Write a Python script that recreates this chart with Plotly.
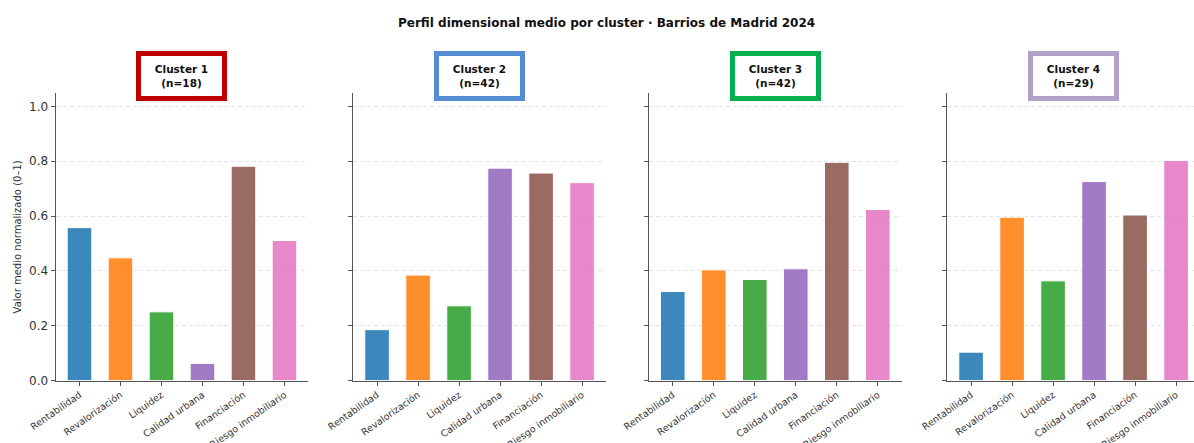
import plotly.graph_objects as go

# Dimension labels shared by every cluster panel
dimensions = ["Rentabilidad", "Revalorización", "Liquidez",
              "Calidad urbana", "Financiación", "Riesgo inmobiliario"]

# Mean normalised score per dimension (0–1) for each cluster
cluster_1 = [0.558, 0.448, 0.251, 0.063, 0.782, 0.511]
cluster_2 = [0.186, 0.385, 0.273, 0.775, 0.757, 0.722]
cluster_3 = [0.325, 0.404, 0.369, 0.408, 0.796, 0.624]
cluster_4 = [0.104, 0.596, 0.364, 0.726, 0.604, 0.803]

cluster_names = ["Cluster 1", "Cluster 2", "Cluster 3", "Cluster 4"]
cluster_sizes = [18, 42, 42, 29]
y_ticks = [0.0, 0.2, 0.4, 0.6, 0.8, 1.0]

series = [cluster_1, cluster_2, cluster_3, cluster_4]
bar_colors = ["#1f77b4", "#ff7f0e", "#2ca02c", "#9467bd", "#8c564b", "#e377c2"]
frame_colors = ["#c00000", "#558dd5", "#00b050", "#b1a0c7"]

W, H = 1194, 443
FONT = "DejaVu Sans"
AXIS_COLOR = "#555555"
TEXT_COLOR = "#333333"

# Panel placement in pixels (left edge, right edge); shared vertical span
px_per_unit = 41.0
x_lo = -0.58
panel_left = [55.7, 353.3, 649.0, 947.3]
full_width = 6.16 * px_per_unit
y_bottom_px, y_top_px = 380.7, 92.7

fig = go.Figure()
layout = dict(
    width=W, height=H,
    margin=dict(l=0, r=0, t=0, b=0, autoexpand=False),
    paper_bgcolor="white", plot_bgcolor="white",
    showlegend=False,
    font=dict(family=FONT, color=TEXT_COLOR),
)

annotations = []
for i, values in enumerate(series):
    ax = "" if i == 0 else str(i + 1)
    left = panel_left[i]
    right = min(left + full_width, W)
    x_hi = x_lo + (right - left) / px_per_unit

    fig.add_trace(go.Bar(
        x=dimensions, y=values,
        width=0.6,
        marker=dict(color=bar_colors, opacity=0.87,
                    line=dict(color="white", width=1)),
        xaxis="x" + ax, yaxis="y" + ax,
        hoverinfo="x+y",
    ))

    layout["xaxis" + ax] = dict(
        domain=[left / W, right / W],
        anchor="y" + ax,
        type="category",
        range=[x_lo, x_hi],
        automargin=False,
        showline=True, linecolor=AXIS_COLOR, linewidth=1.2,
        ticks="outside", ticklen=4, tickcolor=AXIS_COLOR, tickwidth=1,
        tickangle=-35,
        tickfont=dict(family=FONT, size=9.5, color=TEXT_COLOR),
        showgrid=False, zeroline=False,
    )
    layout["yaxis" + ax] = dict(
        domain=[(H - y_bottom_px) / H, (H - y_top_px) / H],
        anchor="x" + ax,
        range=[0, 1.05],
        automargin=False,
        tickvals=y_ticks,
        ticktext=[f"{v:.1f}" for v in y_ticks],
        showticklabels=(i == 0),
        showline=True, linecolor=AXIS_COLOR, linewidth=1.2,
        ticks="outside", ticklen=4, tickcolor=AXIS_COLOR, tickwidth=1,
        tickfont=dict(family=FONT, size=12, color=TEXT_COLOR),
        showgrid=True, gridcolor="#e2e2e2", gridwidth=0.8, griddash="4px,3px",
        zeroline=False,
    )

    # Framed cluster label above each panel
    centre = left + full_width / 2
    annotations.append(dict(
        xref="paper", yref="paper",
        x=centre / W, y=(H - 75.5) / H,
        xanchor="center", yanchor="middle",
        text=f"<b>{cluster_names[i]}<br>(n={cluster_sizes[i]})</b>",
        showarrow=False,
        font=dict(family=FONT, size=10.5, color="#111111"),
        bgcolor="white", bordercolor=frame_colors[i], borderwidth=5,
        borderpad=3, width=75, height=34,
    ))

annotations.append(dict(
    xref="paper", yref="paper",
    x=17.7 / W, y=(H - (y_bottom_px + y_top_px) / 2) / H,
    xanchor="center", yanchor="middle",
    text="Valor medio normalizado (0–1)", textangle=-90,
    showarrow=False,
    font=dict(family=FONT, size=10, color=TEXT_COLOR),
))
annotations.append(dict(
    xref="paper", yref="paper",
    x=606 / W, y=(H - 23) / H,
    xanchor="center", yanchor="middle",
    text="<b>Perfil dimensional medio por cluster · Barrios de Madrid 2024</b>",
    showarrow=False,
    font=dict(family=FONT, size=12, color="#111111"),
))

layout["annotations"] = annotations
fig.update_layout(**layout)
fig.write_html("out.html", config={"displayModeBar": False})
